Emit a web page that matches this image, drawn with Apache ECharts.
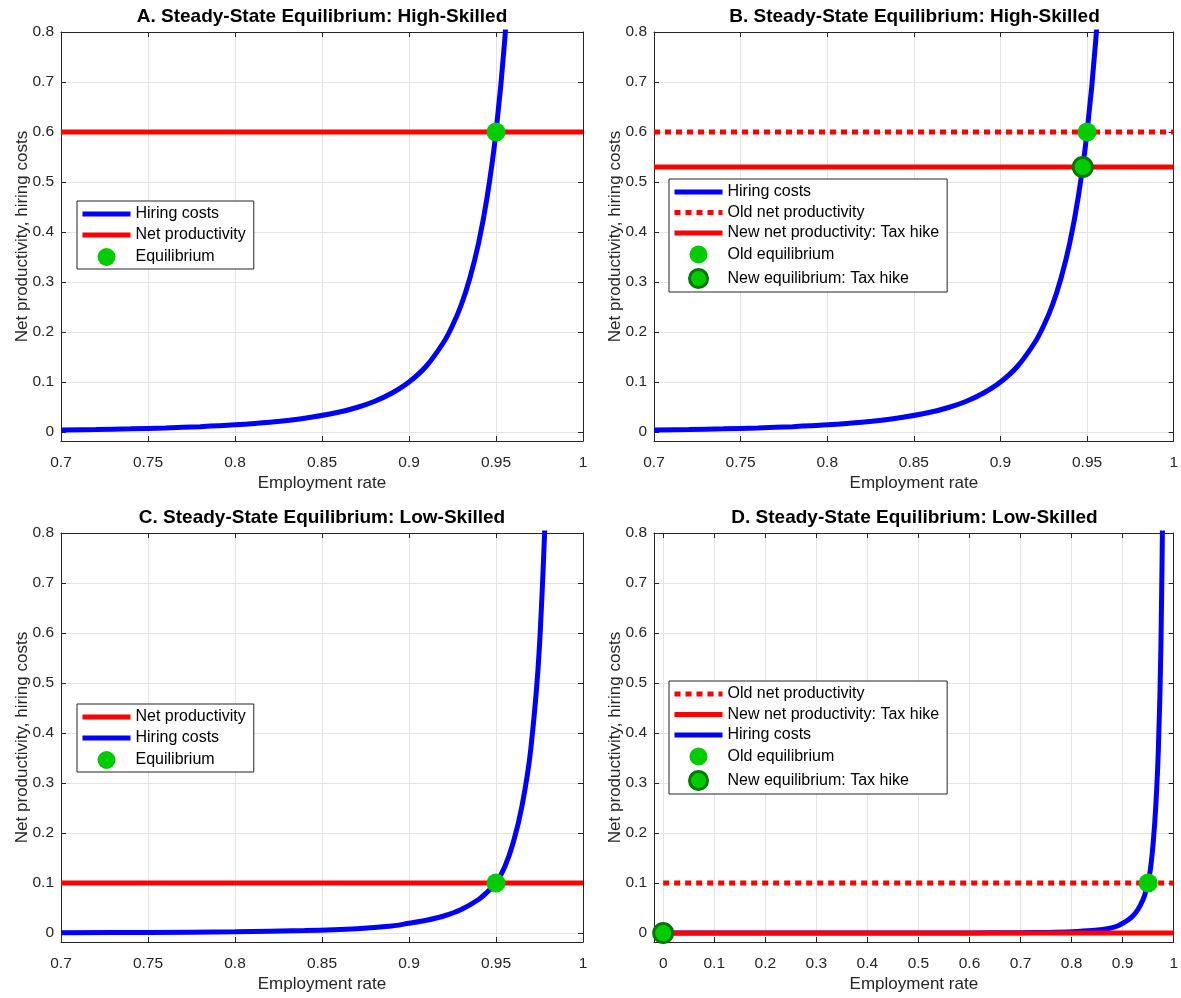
<!DOCTYPE html>
<html><head><meta charset="utf-8">
<script src="https://cdn.jsdelivr.net/npm/echarts@6/dist/echarts.min.js"></script>
<style>html,body{margin:0;padding:0;background:#fff}#c{width:1181px;height:998px}</style>
</head><body><div id="c"></div>
<script>
// ---------- data ----------
const highX      = [0.70,0.72,0.74,0.76,0.78,0.80,0.82,0.84,0.86,0.87,0.88,0.89,0.90,0.91,0.92,0.925,0.93,0.935,0.94,0.945,0.95,0.955,0.96];
const highHiring = [0.0039,0.0049,0.0063,0.0082,0.0107,0.0143,0.0195,0.0274,0.0400,0.0490,0.0611,0.0774,0.0999,0.132,0.180,0.213,0.254,0.308,0.378,0.472,0.600,0.783,1.05];
const lowX       = [0.70,0.75,0.80,0.84,0.87,0.89,0.90,0.91,0.92,0.93,0.94,0.945,0.95,0.955,0.96,0.965,0.97,0.975,0.98];
const lowHiring  = [0.0006,0.0012,0.0025,0.0048,0.0085,0.0140,0.0195,0.0255,0.0340,0.0470,0.0670,0.0820,0.100,0.132,0.182,0.255,0.368,0.575,1.00];
const lowXFull      = [0,0.1,0.2,0.3,0.4,0.5,0.6,0.70,0.75,0.80,0.84,0.87,0.89,0.90,0.91,0.92,0.93,0.94,0.945,0.95,0.955,0.96,0.965,0.97,0.975,0.98];
const lowHiringFull = [0,0.000001,0.000005,0.00001,0.00003,0.00008,0.0002,0.0006,0.0012,0.0025,0.0048,0.0085,0.0140,0.0195,0.0255,0.0340,0.0470,0.0670,0.0820,0.100,0.132,0.182,0.255,0.368,0.575,1.00];

const lineXHigh = [0.7, 1];
const lineXFull = [0, 1];
const netProdHigh    = [0.6, 0.6];
const newNetProdHigh = [0.53, 0.53];
const netProdLow     = [0.1, 0.1];
const newNetProdLow  = [0, 0];

const eqHigh    = [0.95, 0.6];
const newEqHigh = [0.9475, 0.53];
const eqLow     = [0.95, 0.1];
const newEqLow  = [0, 0];

const xTicksHigh = [0.7,0.75,0.8,0.85,0.9,0.95,1];
const xTicksFull = [0,0.1,0.2,0.3,0.4,0.5,0.6,0.7,0.8,0.9,1];
const yTicks     = [0,0.1,0.2,0.3,0.4,0.5,0.6,0.7,0.8];

const titles = ['A. Steady-State Equilibrium: High-Skilled','B. Steady-State Equilibrium: High-Skilled',
                'C. Steady-State Equilibrium: Low-Skilled','D. Steady-State Equilibrium: Low-Skilled'];
// ---------------------------------------------------

const FONT = '"Liberation Sans", Arial, Helvetica, sans-serif';
const AX = '#262626', GRIDC = '#e4e4e4';
const BLUE = '#0000ff', RED = '#ff0000', GREEN = '#00cc00', DKGREEN = '#007800';
const DOT = [6, 5];
const TICKFS = 15.5, NAMEFS = 17, TITLEFS = 19, LEGFS = 16;

const panels = [
  {left:61,  top:32,  w:522, h:409, xmin:0.7,    xmax:1, xt:xTicksHigh},
  {left:654, top:32,  w:521, h:409, xmin:0.7,    xmax:1, xt:xTicksHigh},
  {left:61,  top:533, w:522, h:409, xmin:0.7,    xmax:1, xt:xTicksHigh},
  {left:654, top:533, w:521, h:409, xmin:-0.018, xmax:1, xt:xTicksFull}
];
const YMIN = -0.018, YMAX = 0.8;
const fmt = v => String(+(+v).toFixed(2));

const grid = [], xAxis = [], yAxis = [], title = [];
panels.forEach((p, i) => {
  grid.push({left:p.left, top:p.top, width:p.w, height:p.h, containLabel:false});
  title.push({text:titles[i], left:p.left + p.w/2, top:p.top - 25, textAlign:'center', padding:0,
    textStyle:{fontSize:TITLEFS, fontWeight:'bold', color:'#000', fontFamily:FONT}});
  xAxis.push({type:'value', gridIndex:i, position:'bottom', min:p.xmin, max:p.xmax,
    axisLine:{show:true, onZero:false, lineStyle:{color:AX, width:1}},
    axisTick:{show:true, inside:true, length:5, customValues:p.xt, lineStyle:{color:AX}},
    axisLabel:{show:true, customValues:p.xt, color:AX, fontSize:TICKFS, margin:14, fontFamily:FONT, formatter:fmt},
    splitLine:{show:true, lineStyle:{color:GRIDC, width:1}},
    name:'Employment rate', nameLocation:'middle', nameGap:34,
    nameTextStyle:{fontSize:NAMEFS, color:AX, fontFamily:FONT}});
  xAxis.push({type:'value', gridIndex:i, position:'top', min:p.xmin, max:p.xmax,
    axisLine:{show:true, onZero:false, lineStyle:{color:AX, width:1}},
    axisTick:{show:true, inside:true, length:5, customValues:p.xt, lineStyle:{color:AX}},
    axisLabel:{show:false}, splitLine:{show:false}});
  yAxis.push({type:'value', gridIndex:i, position:'left', min:YMIN, max:YMAX,
    axisLine:{show:true, onZero:false, lineStyle:{color:AX, width:1}},
    axisTick:{show:true, inside:true, length:5, customValues:yTicks, lineStyle:{color:AX}},
    axisLabel:{show:true, customValues:yTicks, color:AX, fontSize:TICKFS, margin:7, fontFamily:FONT, formatter:fmt},
    splitLine:{show:true, lineStyle:{color:GRIDC, width:1}},
    name:'Net productivity, hiring costs', nameLocation:'middle', nameGap:30, nameMoveOverlap:false,
    nameTextStyle:{fontSize:NAMEFS, color:AX, fontFamily:FONT}});
  yAxis.push({type:'value', gridIndex:i, position:'right', min:YMIN, max:YMAX,
    axisLine:{show:true, onZero:false, lineStyle:{color:AX, width:1}},
    axisTick:{show:true, inside:true, length:5, customValues:yTicks, lineStyle:{color:AX}},
    axisLabel:{show:false}, splitLine:{show:false}});
});

const zip = (xs, ys) => xs.map((x, k) => [x, ys[k]]);
function line(name, gi, xs, ys, color, type, smooth) {
  return {type:'line', name, xAxisIndex:gi*2, yAxisIndex:gi*2, data:zip(xs, ys),
    symbol:'none', smooth: smooth ? 0.35 : false, clip:true,
    lineStyle:{color, width:5, type: type || 'solid', cap:'butt'}, itemStyle:{color},
    emphasis:{disabled:true}, silent:true, animation:false};
}
function pt(name, gi, p, border) {
  return {type:'scatter', name, xAxisIndex:gi*2, yAxisIndex:gi*2, data:[p], symbol:'circle', symbolSize:19,
    itemStyle: border ? {color:GREEN, borderColor:DKGREEN, borderWidth:3, opacity:1} : {color:GREEN, opacity:1},
    emphasis:{disabled:true}, silent:true, animation:false, clip:false, z:5};
}

const series = [
  // A
  line('Hiring costs', 0, highX, highHiring, BLUE, null, true),
  line('Net productivity', 0, lineXHigh, netProdHigh, RED),
  pt('Equilibrium', 0, eqHigh),
  // B
  line('Hiring costs', 1, highX, highHiring, BLUE, null, true),
  line('Old net productivity', 1, lineXHigh, netProdHigh, RED, DOT),
  line('New net productivity: Tax hike', 1, lineXHigh, newNetProdHigh, RED),
  pt('Old equilibrium', 1, eqHigh),
  pt('New equilibrium: Tax hike', 1, newEqHigh, true),
  // C
  line('Hiring costs', 2, lowX, lowHiring, BLUE, null, true),
  line('Net productivity', 2, lineXHigh, netProdLow, RED),
  pt('Equilibrium', 2, eqLow),
  // D
  line('Hiring costs', 3, lowXFull, lowHiringFull, BLUE, null, true),
  line('Old net productivity', 3, lineXFull, netProdLow, RED, DOT),
  line('New net productivity: Tax hike', 3, lineXFull, newNetProdLow, RED),
  pt('Old equilibrium', 3, eqLow),
  pt('New equilibrium: Tax hike', 3, newEqLow, true)
];

const pointNames = ['Equilibrium','Old equilibrium','New equilibrium: Tax hike'];
function legend(left, top, gap, names) {
  return {show:true, orient:'vertical', left, top, selectedMode:false,
    itemWidth:48, itemHeight:18, itemGap:gap, padding:[5,8,3,3],
    backgroundColor:'#fff', borderColor:AX, borderWidth:1, borderRadius:0,
    textStyle:{fontSize:LEGFS, color:'#000', fontFamily:FONT},
    lineStyle:{width:5, cap:'butt'},
    data: names.map(n => {
      if (n === 'New equilibrium: Tax hike') return {name:n, itemStyle:{borderWidth:3, borderColor:DKGREEN, opacity:1}};
      if (pointNames.indexOf(n) >= 0) return {name:n, itemStyle:{opacity:1}};
      return {name:n, itemStyle:{color:'rgba(0,0,0,0)', borderWidth:0, borderColor:'rgba(0,0,0,0)'}};
    })};
}

const option = {
  backgroundColor:'#fff', animation:false,
  title, grid, xAxis, yAxis, series,
  legend:[
    legend(77, 201, 5, ['Hiring costs','Net productivity','Equilibrium']),
    legend(669, 179, 4.5, ['Hiring costs','Old net productivity','New net productivity: Tax hike','Old equilibrium','New equilibrium: Tax hike']),
    legend(77, 704, 5, ['Net productivity','Hiring costs','Equilibrium']),
    legend(669, 681, 4.5, ['Old net productivity','New net productivity: Tax hike','Hiring costs','Old equilibrium','New equilibrium: Tax hike'])
  ]
};
const chart = echarts.init(document.getElementById('c'), null, {renderer:'canvas'});
chart.setOption(option);
</script></body></html>
